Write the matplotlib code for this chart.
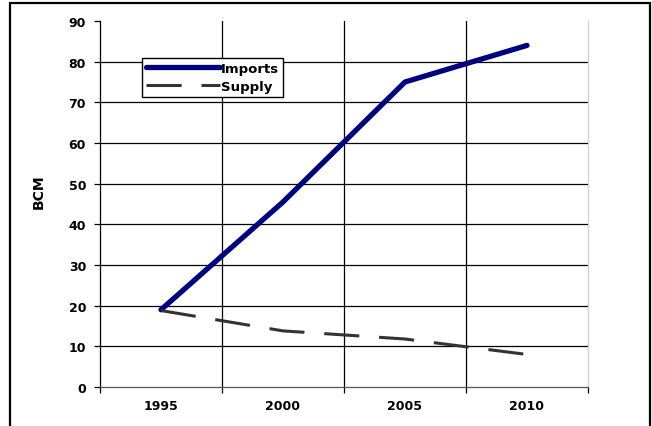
import matplotlib
matplotlib.use("Agg")
import matplotlib.pyplot as plt
from matplotlib.patches import Rectangle
import numpy as np

years = ["1995", "2000", "2005", "2010"]
imports = [19, 45.5, 75, 84]
supply = [18.8, 13.8, 11.8, 8]

plt.rcParams['font.family'] = ['DejaVu Sans']
plt.rcParams['font.weight'] = 'bold'

fig = plt.figure(figsize=(6.52, 4.27), dpi=100)
W, H = 652, 427

# outer chart border (no bottom edge visible in the reference)
fig.patches.append(Rectangle((10 / W, -0.2), 640 / W, 1.2 - 4 / H,
                             transform=fig.transFigure, fill=False,
                             edgecolor='black', lw=1.6, zorder=0))

ax = fig.add_axes([100 / W, 1 - 388 / H, 488 / W, 366 / H])
x = np.arange(len(years))

ax.plot(x, imports, color='#000080', lw=3.8, solid_capstyle='round',
        solid_joinstyle='round', label='Imports', zorder=3)
ax.plot(x, supply, color='#333333', lw=2.2, dashes=(11.5, 6.5),
        dash_capstyle='butt', label='Supply', zorder=3)

ax.set_xlim(-0.5, len(years) - 0.5)
ax.set_ylim(0, 90)
ax.set_yticks(np.arange(0, 91, 10))
ax.set_xticks(x)
ax.set_xticklabels(years)
ax.set_xticks(np.arange(-0.5, len(years), 1.0), minor=True)

# gridlines
for yv in range(10, 90, 10):
    ax.axhline(yv, color='black', lw=0.9, zorder=1)
for xv in np.arange(0.5, len(years) - 1, 1.0):
    ax.axvline(xv, color='black', lw=0.9, zorder=1)

ax.spines['top'].set_visible(False)
ax.spines['right'].set_color('#d0d0d0')
ax.spines['bottom'].set_color('#555555')
ax.spines['left'].set_color('black')
for s in ['left', 'bottom', 'right']:
    ax.spines[s].set_linewidth(0.9)

ax.tick_params(axis='y', direction='out', length=4, width=0.9, pad=6,
               labelsize=9, right=False)
ax.tick_params(axis='x', which='major', length=0, pad=9, labelsize=9)
ax.tick_params(axis='x', which='minor', direction='out', length=4, width=0.9)

fig.text(39 / W, 1 - 192 / H, 'BCM', rotation=90, ha='center', va='center',
         fontsize=10, fontweight='bold')

leg = ax.legend(loc='upper left', bbox_to_anchor=(0.086, 0.899),
                borderaxespad=0, fancybox=False, framealpha=1,
                edgecolor='black', fontsize=9.5, handlelength=5.6,
                handletextpad=0.1, borderpad=0.3, labelspacing=0.35)
leg.get_frame().set_linewidth(1.0)

plt.savefig("out.png", dpi=100)
